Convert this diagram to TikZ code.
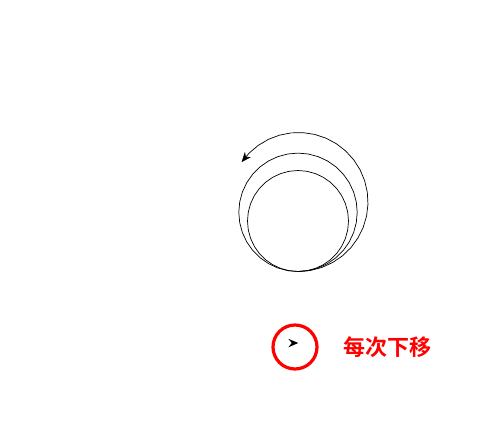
\documentclass[tikz,border=0pt]{standalone}
\usepackage{fontspec}
\newfontfamily\cjk{Noto Sans CJK SC}[BoldFont={Noto Sans CJK SC Bold}]
\usetikzlibrary{arrows.meta}

\definecolor{turtlered}{RGB}{255,0,0}

\tikzset{
  path/.style={draw=black, line width=0.7pt, line join=round},
  ring/.style={draw=turtlered, line width=3.2pt},
  tag/.style={text=turtlered, font=\cjk\bfseries\fontsize{22pt}{22pt}\selectfont, inner sep=0pt}
}

\begin{document}
\begin{tikzpicture}[x=1pt, y=-1pt]
    \useasboundingbox[fill=white] (0,0) rectangle (479,439);

    % Circles, all started at the bottom point
    \draw[path] plot[samples=37, domain=0:360]
        ({298+50.5*cos(90+\x)}, {221+50.5*sin(90+\x)});
    \draw[path] plot[samples=37, domain=0:360]
        ({298+59.2*cos(90+\x)}, {212.3+59.2*sin(90+\x)});
    \draw[path, -{Stealth[length=10pt, width=8pt]}] plot[samples=25, domain=0:235]
        ({298.5+69.5*cos(90-\x)}, {202+69.5*sin(90-\x)});

    % Turtle
    \node[ring, circle, minimum size=44pt, inner sep=0pt] (ring) at (295,347) {};
    \fill[black] (298.3,343) -- (288.3,338.8) -- (291.8,343) -- (288.3,347.3) -- cycle;

    % Label
    \node[tag, anchor=west] (label) at (343.5,347) {每次下移};
\end{tikzpicture}
\end{document}
